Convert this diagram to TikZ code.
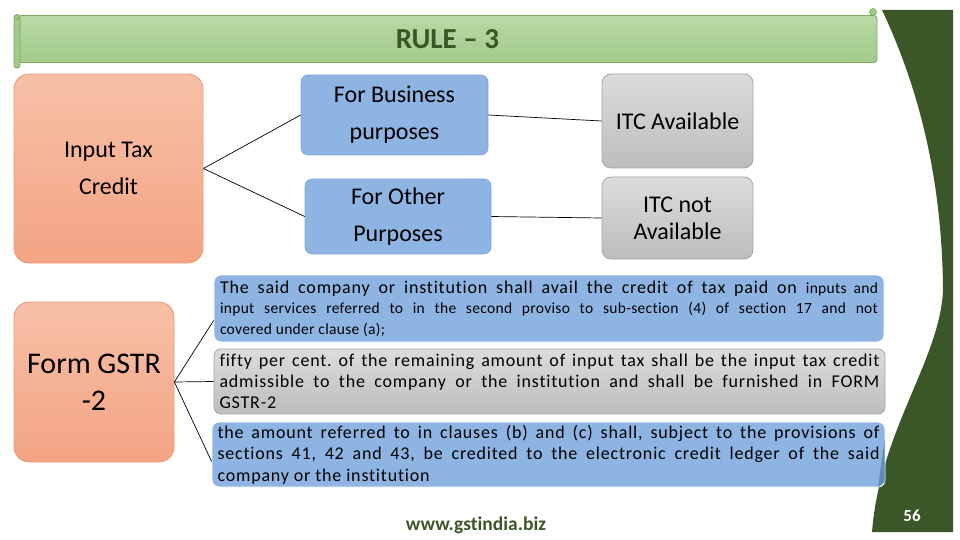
\documentclass[tikz,border=0pt]{standalone}
\usepackage{fontspec}
\setmainfont{Carlito}[Ligatures=NoCommon]
\newfontfamily\spaced{Carlito}[LetterSpace=4.5,Ligatures=NoCommon]
\newfontfamily\spacedb{Carlito}[LetterSpace=2,Ligatures=NoCommon]
\definecolor{gbar}{HTML}{3B5727}
\definecolor{bannerA}{HTML}{B9DAA5}
\definecolor{bannerB}{HTML}{A2CA8B}
\definecolor{bannerline}{HTML}{7BAA5E}
\definecolor{titlegreen}{HTML}{3B5727}
\definecolor{salmonA}{HTML}{F7C0A6}
\definecolor{salmonB}{HTML}{F4A484}
\definecolor{salmonline}{HTML}{E99B78}
\definecolor{boxblue}{HTML}{8DB4E2}
\definecolor{blueline}{HTML}{7FA7D6}
\definecolor{grayA}{HTML}{DCDCDC}
\definecolor{grayB}{HTML}{BDBDBD}
\definecolor{grayline}{HTML}{A6A6A6}
\definecolor{folddark}{HTML}{5E8DB9}
\tikzset{
  salmonbox/.style={draw=salmonline, line width=0.8pt, top color=salmonA, bottom color=salmonB, rounded corners=15pt, align=center},
  bluebox/.style={draw=blueline, line width=0.6pt, fill=boxblue, rounded corners=7pt, align=center},
  graybox/.style={draw=grayline, line width=0.8pt, top color=grayA, bottom color=grayB, rounded corners=9pt, align=center},
  parablue/.style={draw=white, line width=0.8pt, fill=boxblue, rounded corners=7pt, inner sep=0pt},
  paragray/.style={draw=grayline, line width=0.8pt, top color=grayA, bottom color=grayB, rounded corners=7pt, inner sep=0pt},
  link/.style={draw=black, line width=0.7pt},
  bigtxt/.style={font=\fontsize{24}{37}\selectfont},
}
\frenchspacing
\begin{document}
\begin{tikzpicture}[x=1pt,y=-1pt]
\useasboundingbox (0,0) rectangle (960,540);
% right decorative green band
\fill[gbar] (882,10) -- (953,10) -- (953,532) -- (872,532)
  .. controls (880,430) and (940,360) .. (943,290)
  .. controls (942,170) and (915,80) .. (882,10) -- cycle;
% title scroll
\node[draw=bannerline, line width=0.8pt, top color=bannerA, bottom color=bannerB, rounded corners=3pt,
      minimum width=859pt, minimum height=47pt, inner sep=0pt,
      font=\fontsize{29}{30}\selectfont\bfseries, text=titlegreen] (title) at (447.5,39) {RULE – 3};
\filldraw[draw=bannerline, fill=bannerB, line width=0.8pt, rounded corners=2.5pt] (14,15) rectangle (20,68);
\filldraw[draw=bannerline, fill=bannerB, line width=0.6pt] (17,17) circle (2.5pt);
\filldraw[draw=bannerline, fill=bannerB, line width=0.6pt] (873,12) circle (3.5pt);
% top diagram
\node[salmonbox, minimum width=189pt, minimum height=189pt, bigtxt] (itc) at (108.5,168.5) {Input Tax\\Credit};
\node[bluebox, minimum width=187pt, minimum height=80pt, bigtxt] (biz) at (394.5,115) {For Business\\purposes};
\node[bluebox, minimum width=186pt, minimum height=75pt, bigtxt] (oth) at (398,216.5) {For Other\\Purposes};
\node[graybox, minimum width=151pt, minimum height=94pt, font=\fontsize{24}{28}\selectfont] (av) at (677.5,121) {ITC Available};
\node[graybox, minimum width=151pt, minimum height=82pt, font=\fontsize{24}{27}\selectfont] (nav) at (677.5,218) {ITC not\\Available};
\draw[link] (itc.east) -- (biz.west);
\draw[link] (itc.east) -- (oth.west);
\draw[link] (biz.east) -- (av.west);
\draw[link] (oth.east) -- (nav.west);
% lower diagram
\node[salmonbox, minimum width=160pt, minimum height=160pt, font=\fontsize{30}{37}\selectfont] (gstr) at (94,382) {Form GSTR\\-2};
\node[parablue, minimum width=670pt, minimum height=67pt] (p1) at (549,308.5) {\parbox{658pt}{\spaced\fontsize{18}{20.5}\selectfont
\makebox[658pt][s]{The said company or institution shall avail the credit of tax paid on \spacedb\fontsize{15.5}{20.5}\selectfont inputs and}\\
\spacedb\fontsize{15.5}{20.5}\selectfont
\makebox[658pt][s]{input services referred to in the second proviso to sub-section (4) of section 17 and not}\\
covered under clause (a);}};
\node[paragray, minimum width=671pt, minimum height=65pt] (p2) at (549.5,381.5) {\parbox{660pt}{\spaced\fontsize{18}{21}\selectfont
\makebox[660pt][s]{fifty per cent. of the remaining amount of input tax shall be the input tax credit}\\
\makebox[660pt][s]{admissible to the company or the institution and shall be furnished in FORM}\\
GSTR-2}};
\node[parablue, minimum width=673pt, minimum height=65pt] (p3) at (548.5,454.5) {\parbox{662pt}{\spaced\fontsize{18}{21.5}\selectfont
\makebox[662pt][s]{the amount referred to in clauses (b) and (c) shall, subject to the provisions of}\\
\makebox[662pt][s]{sections 41, 42 and 43, be credited to the electronic credit ledger of the said}\\
company or the institution}};
\fill[folddark] (884.5,440) -- (884.5,482) -- (878,487) -- cycle;
\draw[link] (gstr.east) -- ([yshift=-12pt]p1.west);
\draw[link] (gstr.east) -- (p2.west);
\draw[link] (gstr.east) -- ([yshift=-7pt]p3.west);
% footer
\node[font=\fontsize{19.5}{22}\selectfont\bfseries, text=titlegreen] (web) at (476,525) {www.gstindia.biz};
\node[font=\fontsize{17}{20}\selectfont\bfseries, text=white] (pg) at (912,516) {56};
\end{tikzpicture}
\end{document}
